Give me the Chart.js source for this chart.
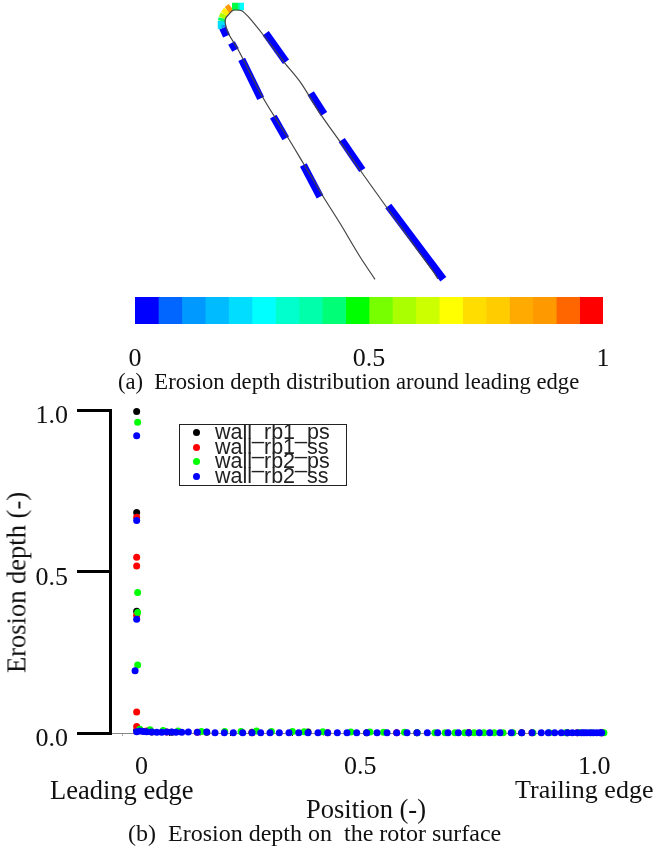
<!DOCTYPE html>
<html>
<head>
<meta charset="utf-8">
<script src="https://cdn.jsdelivr.net/npm/chart.js@4"></script>
<style>
  html, body { margin: 0; padding: 0; background: #fff; }
  body { position: relative; width: 656px; height: 848px; overflow: hidden; }
  canvas { position: absolute; left: 0; }
  .txt { position: absolute; white-space: pre; font-family: "Liberation Serif", serif; color: #111; line-height: 1; }
  #ytitle { left: 4px; top: 492px; font-size: 26.5px; writing-mode: vertical-rl; transform: rotate(180deg); }
  #legend { position: absolute; left: 179px; top: 424px; width: 166px; height: 60px; border: 1px solid #222; overflow: hidden; }
  .row { position: absolute; left: 0; font: 21.5px/15px "Liberation Sans", sans-serif; color: #222; }
  .row i { position: absolute; left: 13px; top: 4px; width: 7px; height: 7px; border-radius: 50%; }
  .row span { position: absolute; left: 35px; top: 0; white-space: pre; }
</style>
</head>
<body>
<canvas id="blade" width="656" height="285" style="top:0"></canvas>
<canvas id="bar" width="656" height="90" style="top:285px"></canvas>
<canvas id="depth" width="656" height="462" style="top:386px"></canvas>
<div id="legend"></div>

<div class="txt" style="left:118px;top:371px;font-size:22.6px">(a)  Erosion depth distribution around leading edge</div>
<div class="txt" id="ytitle">Erosion depth (-)</div>
<div class="txt" id="xl0" style="left:135px;top:753px;font-size:26px"></div>
<div class="txt" id="xl1" style="left:344px;top:753px;font-size:26px"></div>
<div class="txt" id="xl2" style="left:578px;top:753px;font-size:26px"></div>
<div class="txt" style="left:50px;top:777px;font-size:26.5px">Leading edge</div>
<div class="txt" style="left:515px;top:777px;font-size:26px">Trailing edge</div>
<div class="txt" style="left:306px;top:796px;font-size:26.5px">Position (-)</div>
<div class="txt" style="left:128px;top:821px;font-size:24px">(b)  Erosion depth on  the rotor surface</div>

<script>
// blade outline, in picture units of the upper panel
const outlineX = [375, 360, 340, 323.3, 303.3, 288.3, 263.3, 238.3, 228.3, 225.3, 225.8, 228.3, 232, 235, 241.7, 248.3, 263.3, 285, 300, 320, 340, 360, 385, 433.3, 438];
const outlineY = [279.3, 256.7, 223.3, 196.7, 163.3, 138.3, 98.3, 50, 33.3, 23.3, 18, 15, 11, 10, 10.7, 16.7, 35, 63.3, 81.7, 113.3, 141.7, 170, 205, 271.7, 279];

// erosion band around the blade, null = gap
const bandX = [226.5, 222.8, 221.6, 221.5, 222.2, 224, 227, 231, null, 232, 238, 240, 244, null,
  231.5, 235.5, null, 241.7, 260.7, null, 273.3, 285.7, null, 303.3, 320, null,
  265.7, 286, null, 310.7, 324, null, 341.7, 362.3, null, 388.3, 443.3];
const bandY = [36, 28, 25, 21, 18, 14, 10, 7, null, 6.5, 6.5, 6.5, 6.5, null,
  43, 50, null, 59.3, 98.3, null, 116.7, 138.3, null, 165, 196.7, null,
  33.3, 61.7, null, 93.3, 114, null, 140, 170, null, 206, 279.3];
const tipColors = ['#0000ff', '#0099ff', '#00ddff', '#00ff66', '#b0ff00', '#ffee00', '#ff9900', null,
  null, '#00ff44', '#00ffaa', '#00ffff'];

// colour bar
const barSteps = [0.05, 0.05, 0.05, 0.05, 0.05, 0.05, 0.05, 0.05, 0.05, 0.05, 0.05, 0.05, 0.05, 0.05, 0.05, 0.05, 0.05, 0.05, 0.05, 0.05];
const barColors = ['#0000ff', '#0066ff', '#0099ff', '#00bbff', '#00ddff', '#00ffff', '#00ffcc', '#00ffaa', '#00ff77', '#00ff00',
  '#77ff00', '#aaff00', '#ccff00', '#ffff00', '#ffdd00', '#ffcc00', '#ffaa00', '#ff9900', '#ff6600', '#ff0000'];
const barTicks = [0, 0.5, 1];

// erosion depth vs position
const legendLabels = ['wall_rb1_ps', 'wall_rb1_ss', 'wall_rb2_ps', 'wall_rb2_ss'];
const seriesColors = ['#000000', '#ff0000', '#00ff00', '#0000ff'];

const rb1psX = [0.0014, 0.0014, 0.0014, 0.0014, 0.0336, 0.0764, 0.1514, 0.2484, 0.3683, 0.494, 0.6017, 0.7124, 0.8259, 0.9236, 0.9972];
const rb1psY = [0.997, 0.684, 0.378, 0.008, 0.003, 0.002, 0.002, 0.002, 0.003, 0.001, 0.001, 0.001, 0.001, 0.001, 0.001];
const rb1ssX = [0.0014, 0.0014, 0.0014, 0.0014, 0.0014, 0.0014, 0.0086, 0.0229, 0.0657, 0.1313, 0.2484, 0.4104, 0.5582, 0.7124, 0.848, 0.9450, 0.9972];
const rb1ssY = [0.669, 0.545, 0.518, 0.365, 0.065, 0.02, 0.01, 0.006, 0.003, 0.002, 0.001, 0.001, 0.001, 0.001, 0.001, 0.001, 0.001];
const rb2psX = [0.0035, 0.0035, 0.0035, 0.0035, 0.008, 0.03, 0.058, 0.09, 0.14, 0.19, 0.225, 0.258, 0.29, 0.335, 0.36, 0.4, 0.46, 0.501, 0.53, 0.575, 0.602, 0.64, 0.662, 0.683, 0.704, 0.724, 0.745, 0.767, 0.786, 0.807, 0.85, 0.885, 0.92, 0.95, 0.975, 1.002];
const rb2psY = [0.964, 0.436, 0.374, 0.211, 0.012, 0.01, 0.008, 0.006, 0.005, 0.005, 0.005, 0.006, 0.005, 0.005, 0.004, 0.004, 0.003, 0.003, 0.002, 0.002, 0.001, 0.001, 0.001, 0.001, 0.001, 0.001, 0.001, 0.001, 0.001, 0.001, 0.001, 0.001, 0.001, 0.001, 0.001, 0.001];
const rb2ssX = [-0.002, 0.0014, 0.0014, 0.0014, 0.0014, 0.0086, 0.0157, 0.0229, 0.0336, 0.0443, 0.055, 0.0657, 0.0764, 0.0857, 0.0979, 0.112, 0.1313, 0.1514, 0.1692, 0.1891, 0.2084, 0.2285, 0.2484, 0.267, 0.2869, 0.3069, 0.3276, 0.3484, 0.3683, 0.3897, 0.4104, 0.4311, 0.4518, 0.4726, 0.494, 0.5161, 0.5375, 0.5582, 0.5803, 0.6017, 0.6238, 0.646, 0.6681, 0.6902, 0.7124, 0.7351, 0.7574, 0.7794, 0.8036, 0.8259, 0.848, 0.8679, 0.8829, 0.8966, 0.9107, 0.9236, 0.9343, 0.945, 0.9544, 0.9593, 0.9651, 0.9722, 0.9793, 0.9865, 0.9936, 0.9972];
const rb2ssY = [0.193, 0.922, 0.659, 0.353, 0.004, 0.006, 0.005, 0.004, 0.003, 0.002, 0.002, 0.003, 0.003, 0.002, 0.002, 0.003, 0.002, 0.003, 0.001, 0.001, 0.001, 0.001, 0.001, 0.001, 0.001, 0.001, 0.001, 0.001, 0.001, 0.001, 0.001, 0.001, 0.001, 0.001, 0.001, 0.001, 0.001, 0.001, 0.001, 0.001, 0.001, 0.001, 0.001, 0.001, 0.001, 0.001, 0.001, 0.001, 0.001, 0.001, 0.001, 0.001, 0.001, 0.001, 0.001, 0.001, 0.001, 0.001, 0.001, 0.001, 0.001, 0.001, 0.001, 0.001, 0.001, 0.001];

const depthTicks = [0, 0.5, 1];
const positionMarks = [-0.0285, 0.0707, 0.1372, 0.2034, 0.2698, 0.336, 0.4025, 0.469, 0.5355, 0.602, 0.668, 0.734, 0.8, 0.867, 0.934, 1];
const positionLabels = ['0', '0.5', '1.0'];

const pairs = (xs, ys) => xs.map((x, i) => ({ x: x, y: ys[i] }));
const serif = size => ({ family: '"Liberation Serif", serif', size: size });
Chart.defaults.animation = false;
Chart.defaults.responsive = false;
Chart.defaults.plugins.legend.display = false;
Chart.defaults.plugins.tooltip.enabled = false;

// --- upper panel: the blade
new Chart(document.getElementById('blade'), {
  type: 'scatter',
  data: {
    datasets: [
      { data: pairs(outlineX, outlineY), showLine: true, pointRadius: 0, borderColor: '#444', borderWidth: 1.2, tension: 0.3, order: 0 },
      {
        data: pairs(bandX, bandY), showLine: true, pointRadius: 0, borderWidth: 7.5, borderCapStyle: 'butt', order: 1,
        borderColor: '#0000ff', spanGaps: false,
        segment: { borderColor: c => tipColors[c.p0DataIndex] || '#0000ff' }
      }
    ]
  },
  options: {
    layout: { padding: 0 },
    scales: {
      x: { display: false, min: 0, max: 656 },
      y: { display: false, min: 0, max: 285, reverse: true }
    }
  }
});

// --- colour bar
new Chart(document.getElementById('bar'), {
  type: 'bar',
  data: {
    labels: [''],
    datasets: barSteps.map((v, i) => ({ data: [v], backgroundColor: barColors[i], barPercentage: 1, categoryPercentage: 1 }))
  },
  options: {
    indexAxis: 'y',
    layout: { padding: { left: 135, right: 53, top: 12, bottom: 0 } },
    scales: {
      x: {
        stacked: true, min: 0, max: 1,
        grid: { display: false }, border: { display: false },
        afterBuildTicks: s => { s.ticks = barTicks.map(v => ({ value: v })); },
        afterFit: s => { s.height = 51; },
        ticks: { font: serif(26), color: '#111', padding: 12, maxRotation: 0, autoSkip: false, callback: v => String(v) }
      },
      y: { stacked: true, display: false }
    }
  }
});

// --- lower panel: erosion depth
new Chart(document.getElementById('depth'), {
  type: 'scatter',
  data: {
    datasets: [
      { data: pairs(rb1psX, rb1psY), backgroundColor: seriesColors[0], order: 3 },
      { data: pairs(rb1ssX, rb1ssY), backgroundColor: seriesColors[1], order: 2 },
      { data: pairs(rb2psX, rb2psY), backgroundColor: seriesColors[2], order: 1 },
      { data: pairs(rb2ssX, rb2ssY), backgroundColor: seriesColors[3], order: 0 }
    ]
  },
  options: {
    clip: false,
    elements: { point: { radius: 3.5, borderWidth: 0 } },
    layout: { padding: { top: 15, right: 51, bottom: 0, left: 0 } },
    scales: {
      x: {
        min: -0.0557, max: 1.0043,
        border: { color: '#888' },
        grid: { drawOnChartArea: false, tickLength: 3, tickColor: c => c.index % 2 ? '#222' : '#aaa' },
        ticks: { display: false },
        afterBuildTicks: s => { s.ticks = positionMarks.map(v => ({ value: v })); },
        afterFit: s => { s.height = 115; }
      },
      y: {
        min: 0, max: 1,
        border: { color: '#000', width: 3 },
        grid: { drawOnChartArea: false, tickLength: 33, lineWidth: 3, tickColor: '#000' },
        afterBuildTicks: s => { s.ticks = depthTicks.map(v => ({ value: v })); },
        afterFit: s => { s.width = 110; },
        ticks: { font: serif(26), color: '#111', padding: 9, labelOffset: 6, callback: v => v.toFixed(1) }
      }
    }
  }
});

positionLabels.forEach((t, i) => { document.getElementById('xl' + i).textContent = t; });

// --- legend box
const box = document.getElementById('legend');
legendLabels.forEach((name, i) => {
  const row = document.createElement('div');
  row.className = 'row';
  row.style.top = (i * 14.6) + 'px';
  row.innerHTML = '<i style="background:' + seriesColors[i] + '"></i><span>' + name + '</span>';
  box.appendChild(row);
});
</script>
</body>
</html>
